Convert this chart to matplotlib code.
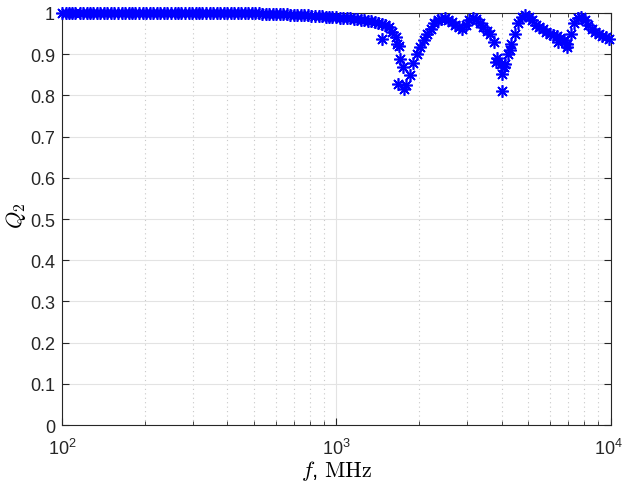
import matplotlib
matplotlib.use("Agg")
import matplotlib.pyplot as plt

# ─────────── Datos ───────────
freq_mhz = [
    100, 103, 106, 109, 112, 116, 119, 123, 126, 130, 134, 138, 142, 146, 151, 155,
    160, 165, 170, 175, 180, 185, 191, 197, 203, 209, 215, 221, 228, 235, 242, 249,
    257, 264, 272, 281, 289, 298, 307, 316, 325, 335, 345, 355, 366, 377, 388, 400,
    412, 424, 437, 450, 463, 477, 491, 506, 521, 537, 553, 569, 586, 604, 622, 640,
    659, 679, 700, 720, 742, 764, 787, 810, 835, 860, 885, 912, 939, 967, 996, 1026,
    1056, 1088, 1120, 1154, 1188, 1224, 1260, 1298, 1337, 1376, 1418, 1460, 1503,
    1548, 1595, 1642, 1691, 1742, 1794, 1847, 1902, 1959, 2018, 2078, 2140, 2204,
    2269, 2337, 2407, 2479, 2553, 2629, 2707, 2788, 2871, 2957, 3045, 3136, 3229,
    3326, 3425, 3527, 3632, 3741, 3852, 3967, 4086, 4207, 4333, 4462, 4595, 4732,
    4874, 5019, 5169, 5323, 5482, 5645, 5814, 5987, 6166, 6350, 6539, 6734, 6935,
    7142, 7355, 7574, 7800, 8033, 8272, 8519, 8773, 9035, 9304, 9582, 9868,
]

q2 = (
    [1.000] * 56
    + [0.999, 0.998, 0.998, 0.998, 0.998, 0.998, 0.998]
    + [0.997, 0.997, 0.996, 0.996, 0.995, 0.995, 0.994, 0.994,
       0.993, 0.993, 0.992, 0.992, 0.991, 0.991, 0.990, 0.990,
       0.989, 0.988, 0.988, 0.987, 0.986, 0.985, 0.984, 0.983,
       0.981, 0.980, 0.978, 0.976, 0.973, 0.970, 0.965, 0.955,
       0.942, 0.920, 0.870, 0.825, 0.850, 0.878, 0.900, 0.918,
       0.935, 0.950, 0.962, 0.975, 0.982, 0.986, 0.987, 0.984,
       0.978, 0.972, 0.966, 0.962, 0.970, 0.984, 0.987, 0.985,
       0.975, 0.965, 0.956, 0.948, 0.930, 0.890, 0.875, 0.870,
       0.900, 0.925, 0.950, 0.975, 0.990, 0.994, 0.990, 0.982,
       0.972, 0.966, 0.960, 0.955, 0.950, 0.946, 0.944, 0.940,
       0.935, 0.925, 0.950, 0.975, 0.988, 0.990, 0.982, 0.972,
       0.962, 0.955, 0.950, 0.945, 0.942, 0.937]
)

# puntos dispersos en las caídas
extra_f = [1465, 1661, 1675, 1703, 1762, 3811, 4010, 4010, 4110, 4286, 6412, 6915]
extra_q = [0.937, 0.925, 0.828, 0.888, 0.816, 0.880, 0.852, 0.811, 0.875, 0.910, 0.930, 0.917]

x_ticks = [100, 1000, 10000]
# espacios duros al final del último rótulo para que no se corte en el borde
x_labels = [r"$\mathdefault{10^{2}}$", r"$\mathdefault{10^{3}}$",
            r"$\mathdefault{10^{4}}$" + "\u00a0\u00a0"]
y_ticks = [0, 0.1, 0.2, 0.3, 0.4, 0.5, 0.6, 0.7, 0.8, 0.9, 1]
y_labels = ["0", "0.1", "0.2", "0.3", "0.4", "0.5", "0.6", "0.7", "0.8", "0.9", "1"]

# ─────────── Gráfico ───────────
plt.rcParams["mathtext.fontset"] = "cm"
plt.rcParams["font.family"] = ["Liberation Sans", "DejaVu Sans"]

fig = plt.figure(figsize=(6.23, 4.89), dpi=100)
ax = fig.add_axes([0.0995, 0.1288, 0.8812, 0.8426])

asterisk = (8, 2, 0)
ax.plot(freq_mhz, q2, linestyle="none", marker=asterisk, ms=9, mew=1.2,
        color="blue", zorder=5, clip_on=False)
ax.plot(extra_f, extra_q, linestyle="none", marker=asterisk, ms=9, mew=1.2,
        color="blue", zorder=5)

ax.set_xscale("log")
ax.set_xlim(100, 10000)
ax.set_ylim(0, 1)
ax.set_xticks(x_ticks)
ax.set_xticklabels(x_labels)
ax.set_yticks(y_ticks)
ax.set_yticklabels(y_labels)

ax.grid(True, which="major", color="#e3e3e3", lw=0.8, ls="-")
ax.grid(True, which="minor", axis="x", color="#c8c8c8", lw=0.8, ls=(0, (1, 3)))
ax.set_axisbelow(True)

ax.tick_params(which="both", direction="in", top=True, right=True,
               labelsize=13, colors="#262626", pad=5)
ax.tick_params(which="major", length=5)
ax.tick_params(which="minor", length=3)
ax.tick_params(axis="x", labelsize=13, pad=9)
for s in ax.spines.values():
    s.set_color("#262626")
    s.set_linewidth(0.8)

ax.set_xlabel(r"$f$, $\mathrm{MHz}$", fontsize=16, labelpad=0)
ax.set_ylabel(r"$Q_2$", fontsize=16)
ax.yaxis.set_label_coords(-0.062, 0.51)

fig.savefig("out.png", dpi=100)
